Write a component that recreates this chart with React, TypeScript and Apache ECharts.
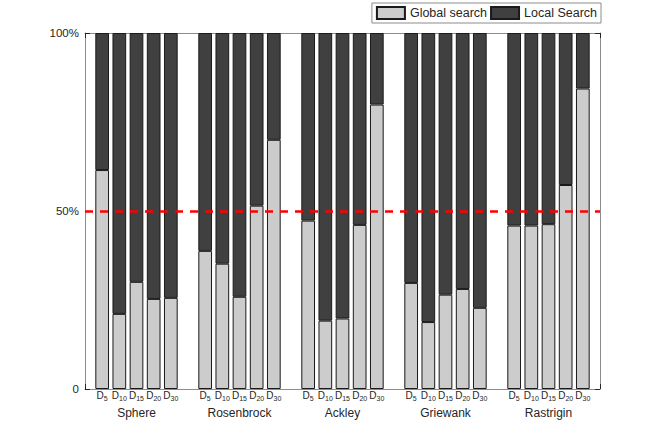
import React, { useEffect, useRef } from "react";
import * as echarts from "echarts";

const categories = ["Sphere", "Rosenbrock", "Ackley", "Griewank", "Rastrigin"];
const dims = ["5", "10", "15", "20", "30"];
const globalSphere = [61.5, 21.1, 30.1, 25.3, 25.6];
const globalRosenbrock = [38.8, 35.2, 25.9, 51.5, 70.0];
const globalAckley = [47.3, 19.2, 19.8, 46.1, 79.9];
const globalGriewank = [29.8, 18.8, 26.5, 28.1, 22.8];
const globalRastrigin = [45.9, 45.9, 46.3, 57.3, 84.4];
const yTickLabels = ["0", "50%", "100%"];
const seriesNames = ["Global search", "Local Search"];

const FONT = "'Liberation Sans', Arial, Helvetica, sans-serif";
const TEXT = "#262626";
const AXIS = "#8c8c8c";

export default function App() {
  const ref = useRef<HTMLDivElement>(null);
  useEffect(() => {
    if (!ref.current) return;
    const chart = echarts.init(ref.current, undefined, { renderer: "svg" });
    const groups = [globalSphere, globalRosenbrock, globalAckley, globalGriewank, globalRastrigin];
    const slots = Array.from({ length: 31 }, (_, i) => String(i));
    const globalData: (number | string)[] = slots.map(() => "-");
    const localData: (number | string)[] = slots.map(() => "-");
    groups.forEach((arr, g) => {
      arr.forEach((v, d) => {
        const idx = g * 6 + d + 1;
        globalData[idx] = v;
        localData[idx] = +(100 - v).toFixed(2);
      });
    });
    const dimLabel = (idx: number) => {
      if (idx <= 0 || idx >= 30) return "";
      const d = (idx - 1) % 6;
      if (d >= 5) return "";
      return `{d|D}{s|${dims[d]}}`;
    };
    const groupLabel = (idx: number) => {
      if (idx <= 0 || idx >= 30) return "";
      const g = Math.floor((idx - 1) / 6);
      const d = (idx - 1) % 6;
      return d === 2 ? categories[g] : "";
    };
    const valueX = (pos: "top" | "bottom") => ({
      type: "value",
      position: pos,
      min: 0,
      max: 30,
      interval: 5,
      axisLine: { show: true, onZero: false, lineStyle: { color: AXIS, width: 1 } },
      axisTick: { show: true, inside: true, length: 5, lineStyle: { color: TEXT, width: 1 } },
      axisLabel: { show: false },
      splitLine: { show: false },
    });
    const valueY = (pos: "left" | "right", labels: boolean) => ({
      type: "value",
      position: pos,
      min: 0,
      max: 100,
      interval: 50,
      axisLine: { show: true, onZero: false, lineStyle: { color: AXIS, width: 1 } },
      axisTick: { show: true, inside: true, length: 5, lineStyle: { color: TEXT } },
      axisLabel: {
        show: labels,
        margin: 6,
        fontSize: 11.5,
        color: TEXT,
        fontFamily: FONT,
        formatter: (_v: number, idx: number) => yTickLabels[idx] ?? "",
      },
      splitLine: { show: false },
    });
    chart.setOption({
      animation: false,
      textStyle: { fontFamily: FONT, color: TEXT },
      grid: { left: 85, right: 64, top: 33, bottom: 49, containLabel: false },
      legend: {
        data: seriesNames,
        right: 63,
        top: 3,
        icon: "rect",
        itemWidth: 28,
        itemHeight: 12,
        itemGap: 3,
        padding: [3, 4],
        borderColor: AXIS,
        borderWidth: 1,
        backgroundColor: "#fff",
        textStyle: { fontSize: 12.5, color: TEXT, fontFamily: FONT },
      },
      xAxis: [
        valueX("bottom"),
        valueX("top"),
        {
          type: "category",
          position: "bottom",
          data: slots,
          boundaryGap: false,
          axisLine: { show: false, onZero: false },
          axisTick: { show: false },
          splitLine: { show: false },
          axisLabel: {
            show: true,
            interval: 0,
            margin: 2,
            color: TEXT,
            formatter: (_v: string, idx: number) => dimLabel(idx),
            rich: {
              d: { fontSize: 10, lineHeight: 10, padding: [0, 0, 2, 0], color: TEXT, fontFamily: FONT },
              s: { fontSize: 7, lineHeight: 7, padding: [5, 0, 0, 0], color: TEXT, fontFamily: FONT },
            },
          },
        },
        {
          type: "category",
          position: "bottom",
          data: slots,
          boundaryGap: false,
          axisLine: { show: false, onZero: false },
          axisTick: { show: false },
          splitLine: { show: false },
          axisLabel: {
            show: true,
            interval: 0,
            margin: 18,
            fontSize: 12,
            color: TEXT,
            fontFamily: FONT,
            formatter: (_v: string, idx: number) => groupLabel(idx),
          },
        },
      ],
      yAxis: [valueY("left", true), valueY("right", false)],
      series: [
        {
          name: seriesNames[0],
          type: "bar",
          xAxisIndex: 2,
          yAxisIndex: 0,
          stack: "total",
          barWidth: 13.7,
          data: globalData,
          itemStyle: { color: "#cccccc", borderColor: "#1a1a1a", borderWidth: 1 },
          markLine: {
            silent: true,
            symbol: ["none", "none"],
            label: { show: false },
            lineStyle: { color: "#ff0000", type: [8, 7], width: 2.5 },
            data: [{ yAxis: 50 }],
          },
        },
        {
          name: seriesNames[1],
          type: "bar",
          xAxisIndex: 2,
          yAxisIndex: 0,
          stack: "total",
          barWidth: 13.7,
          data: localData,
          itemStyle: { color: "#404040", borderColor: "#1a1a1a", borderWidth: 1 },
        },
      ],
    });
    return () => chart.dispose();
  }, []);
  return (
    <div
      ref={ref}
      style={{ position: "fixed", left: 0, top: 0, width: 664, height: 438, background: "#fff" }}
    />
  );
}
